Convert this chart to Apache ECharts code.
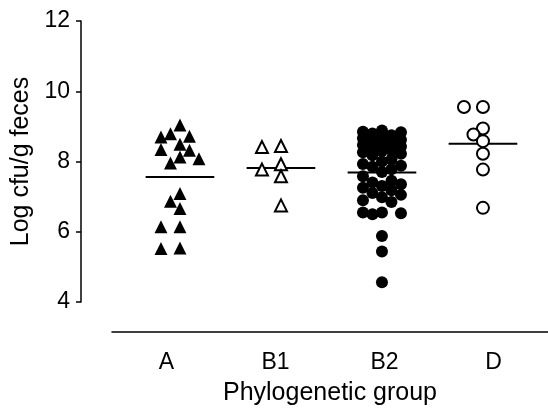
<!DOCTYPE html>
<html>
<head>
<meta charset="utf-8">
<script src="https://cdn.jsdelivr.net/npm/echarts@6/dist/echarts.min.js"></script>
<style>
  html, body { margin: 0; padding: 0; background: #fff; }
  #chart { width: 548px; height: 411px; }
</style>
</head>
<body>
<div id="chart"></div>
<script>
const categories = ['A', 'B1', 'B2', 'D'];
const yTicks = [4, 6, 8, 10, 12];

const groupA = [9.04, 8.79, 8.72, 8.70, 8.49, 8.34, 8.32, 8.13, 8.08, 7.96,
  7.09, 6.87, 6.66, 6.14, 6.14, 5.54, 5.52];
const groupB1 = [8.44, 8.41, 7.92, 7.77, 7.58, 6.75];
const groupB2 = [8.88, 8.85, 8.83, 8.80, 8.75, 8.70, 8.66, 8.62, 8.58, 8.55,
  8.50, 8.47, 8.43, 8.40, 8.32, 8.30, 8.26, 8.22, 8.18, 8.06,
  8.00, 7.93, 7.88, 7.85, 7.78, 7.70, 7.58, 7.45, 7.40, 7.35,
  7.30, 7.25, 7.18, 7.10, 7.05, 6.98, 6.90, 6.85, 6.55, 6.55,
  6.53, 6.50, 5.88, 5.44, 4.56];
const groupD = [9.55, 9.55, 8.94, 8.77, 8.58, 8.22, 7.77, 6.68];

const groups = [groupA, groupB1, groupB2, groupD];

// layout
const W = 548, H = 411;
const grid = { left: 112, right: 0, top: 21, bottom: 109 };
const xMin = -0.673, xMax = 3.644;
const PX_X = (W - grid.left - grid.right) / (xMax - xMin);
const PX_Y = (H - grid.top - grid.bottom) / (yTicks[yTicks.length - 1] - yTicks[0]);
const STEP_PX = 9.5;   // column spacing of the swarm
const GAP_PX = 11;     // marker footprint
const HALF_LINE = 0.34;

const font = "'Liberation Sans', Arial, sans-serif";

// simple beeswarm: spread points sideways so they don't pile up
function swarm(values, center) {
  const order = [0, -1, 1, -2, 2];
  const placed = [];
  const sorted = values.slice().sort((a, b) => b - a);
  return sorted.map(v => {
    let best = 0, bestD = -1;
    for (const k of order) {
      let dmin = Infinity;
      for (const p of placed) {
        const dx = (k - p.k) * STEP_PX, dy = (v - p.v) * PX_Y;
        dmin = Math.min(dmin, Math.hypot(dx, dy));
      }
      if (dmin >= GAP_PX) { best = k; break; }
      if (dmin > bestD) { bestD = dmin; best = k; }
    }
    placed.push({ k: best, v });
    return [center + best * STEP_PX / PX_X, v];
  });
}

const mean = arr => arr.reduce((s, v) => s + v, 0) / arr.length;

const markerStyles = [
  { symbol: 'triangle', symbolSize: 13, itemStyle: { color: '#000', opacity: 1 } },
  { symbol: 'triangle', symbolSize: 12, itemStyle: { color: '#fff', borderColor: '#000', borderWidth: 2, opacity: 1 } },
  { symbol: 'circle', symbolSize: 12, itemStyle: { color: '#000', opacity: 1 } },
  { symbol: 'circle', symbolSize: 12, itemStyle: { color: '#fff', borderColor: '#000', borderWidth: 2, opacity: 1 } }
];

const series = [];
groups.forEach((vals, i) => {
  const m = mean(vals);
  series.push({
    type: 'line',
    xAxisIndex: 0,
    data: [[i - HALF_LINE, m], [i + HALF_LINE, m]],
    symbol: 'none',
    lineStyle: { color: '#000', width: 2 },
    z: 2,
    silent: true
  });
  series.push({
    type: 'scatter',
    xAxisIndex: 0,
    data: swarm(vals, i),
    ...markerStyles[i],
    z: 3
  });
});

const chart = echarts.init(document.getElementById('chart'));
chart.setOption({
  animation: false,
  backgroundColor: '#fff',
  textStyle: { fontFamily: font },
  grid: grid,
  xAxis: [
    { type: 'value', min: xMin, max: xMax, show: false },
    {
      type: 'category',
      data: categories,
      position: 'bottom',
      offset: 30,
      axisLine: { lineStyle: { color: '#000', width: 1.5 } },
      axisTick: { show: false },
      axisLabel: { color: '#000', fontSize: 23, margin: 19, fontFamily: font },
      name: 'Phylogenetic group',
      nameLocation: 'middle',
      nameGap: 49,
      nameTextStyle: { color: '#000', fontSize: 25, fontFamily: font }
    }
  ],
  yAxis: {
    type: 'value',
    min: 4,
    max: 12,
    interval: 2,
    offset: 31,
    axisLine: { show: true, onZero: false, lineStyle: { color: '#000', width: 1.5 } },
    axisTick: { show: true, length: 5, lineStyle: { color: '#000', width: 1.5 } },
    splitLine: { show: false },
    axisLabel: { color: '#000', fontSize: 23, margin: 11, fontFamily: font },
    name: 'Log cfu/g feces',
    nameLocation: 'middle',
    nameGap: 45,
    nameRotate: 90,
    nameTextStyle: { color: '#000', fontSize: 25, fontFamily: font }
  },
  series: series
});
</script>
</body>
</html>
